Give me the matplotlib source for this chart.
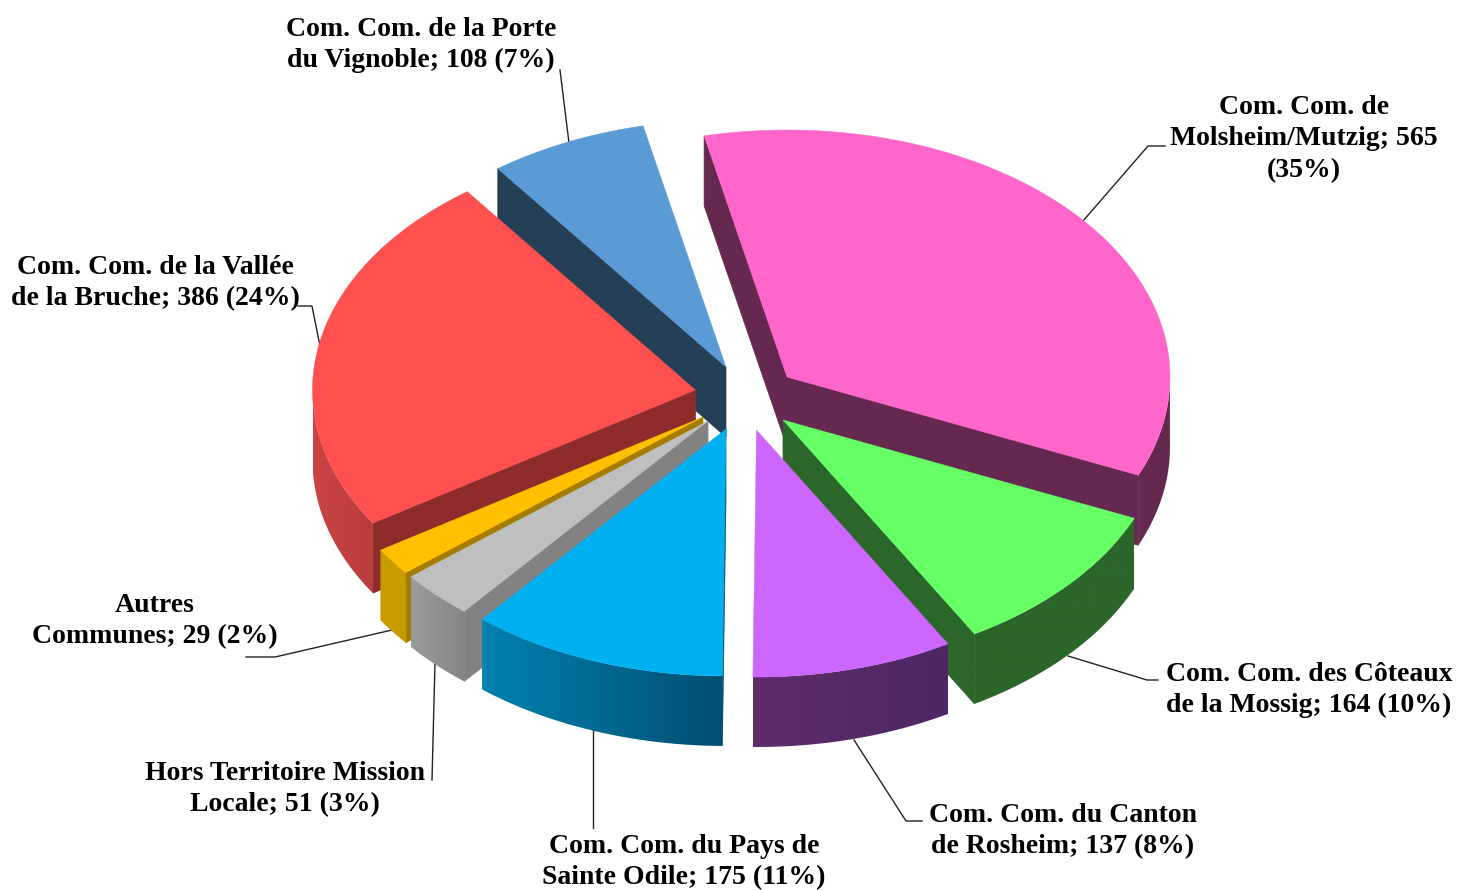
import numpy as np
import matplotlib
matplotlib.use("Agg")
import matplotlib.pyplot as plt
from matplotlib.patches import Polygon

# chart data, clockwise from the top of the pie
names = ["Molsheim", "Coteaux", "Rosheim", "Odile", "Hors", "Autres", "Vallee", "Porte"]
values = [565, 164, 137, 175, 51, 29, 386, 108]
labels = [
    "Com. Com. de\nMolsheim/Mutzig; 565\n(35%)",
    "Com. Com. des Côteaux\nde la Mossig; 164 (10%)",
    "Com. Com. du Canton\nde Rosheim; 137 (8%)",
    "Com. Com. du Pays de\nSainte Odile; 175 (11%)",
    "Hors Territoire Mission\nLocale; 51 (3%)",
    "Autres\nCommunes; 29 (2%)",
    "Com. Com. de la Vallée\nde la Bruche; 386 (24%)",
    "Com. Com. de la Porte\ndu Vignoble; 108 (7%)",
]

# styles
top_colors = ["#ff66cc", "#66ff66", "#cc66ff", "#00b0f0", "#bfbfbf", "#ffc000", "#ff5050", "#5b9bd5"]
cut_colors = ["#65284f", "#2b662a", "#4c2763", "#00587a", "#828282", "#a47c00", "#8e2c2c", "#243f56"]
wall_left = ["#65284f", "#2b662a", "#5f2d6e", "#0082b0", "#9c9c9c", "#c89b00", "#cc4444", "#243f56"]
wall_right = ["#65284f", "#2b662a", "#4c2763", "#004f70", "#858585", "#c89b00", "#b83c3c", "#243f56"]

# layout in picture pixels: tip of each exploded slice
tips = [(787, 377), (783, 420), (756.5, 430), (726, 429),
        (708, 421), (703, 417), (695.5, 390), (726, 367)]
rx, ry = 383, 247
depth = 70
start_angle = -12.5

label_pos = [(1304, 139), (1309, 690), (1063, 831), (684, 862),
             (285, 789), (155, 621), (155, 283), (421, 45)]
leaders = [
    [(1165, 146), (1148, 146), (1083, 221)],
    [(1158, 680), (1147, 680), (1068, 656)],
    [(922, 821), (906, 821), (854, 740)],
    [(593, 828), (593, 730)],
    [(432, 780), (435, 663)],
    [(246, 657), (275, 657), (392, 630)],
    [(298, 306), (312, 306), (320, 346)],
    [(560, 70), (569, 143)],
]


def rim(ox, oy, th):
    return ox + rx * np.sin(th), oy - ry * np.cos(th)


fig = plt.figure(figsize=(14.61, 8.9), dpi=100)
ax = fig.add_axes([0, 0, 1, 1])
ax.axis("off")

for line in leaders:
    ax.plot([p[0] for p in line], [p[1] for p in line], color="#222222", lw=1.0, zorder=1)

sweeps = 360 * np.array(values) / np.sum(values)
starts = start_angle + np.concatenate([[0], np.cumsum(sweeps)[:-1]])
mids = starts + sweeps / 2

# back slices first
order = np.argsort(-np.cos(np.radians(mids)))
z = 2
for i in order:
    a0, a1 = np.radians(starts[i]), np.radians(starts[i] + sweeps[i])
    ox, oy = tips[i]

    # cut faces, only those turned to the viewer
    for a, normal in ((a0, a0 - np.pi / 2), (a1, a1 + np.pi / 2)):
        if np.cos(normal) < 0:
            x, y = rim(ox, oy, a)
            ax.fill([ox, x, x, ox], [oy, y, y + depth, oy + depth],
                    color=cut_colors[i], lw=0.5, zorder=z)
            z += 1

    # outer wall with a left to right shade
    th = np.linspace(a0, a1, 120)
    xs, ys = rim(ox, oy, th)
    front = np.cos(th) < 0.02
    if front.sum() > 1:
        xf, yf = xs[front], ys[front]
        poly = np.c_[np.r_[xf, xf[::-1]], np.r_[yf, yf[::-1] + depth]]
        shade = matplotlib.colors.LinearSegmentedColormap.from_list(
            "wall", [wall_left[i], wall_right[i]])
        im = ax.imshow(np.linspace(0, 1, 256)[None, :], cmap=shade, aspect="auto", zorder=z,
                       extent=(xf.min(), xf.max(), poly[:, 1].max(), poly[:, 1].min()))
        im.set_clip_path(Polygon(poly, transform=ax.transData))
        z += 1

    ax.fill(np.r_[ox, xs], np.r_[oy, ys], color=top_colors[i], lw=0.3, zorder=z)
    z += 1

ax.set_xlim(0, 1461)
ax.set_ylim(890, 0)

for text, pos in zip(labels, label_pos):
    ax.text(pos[0], pos[1], text, ha="center", va="center", multialignment="center",
            family="Liberation Serif", weight="bold", fontsize=20, linespacing=1.33,
            color="black", zorder=z)

fig.savefig("out.png", dpi=100, facecolor="white")
